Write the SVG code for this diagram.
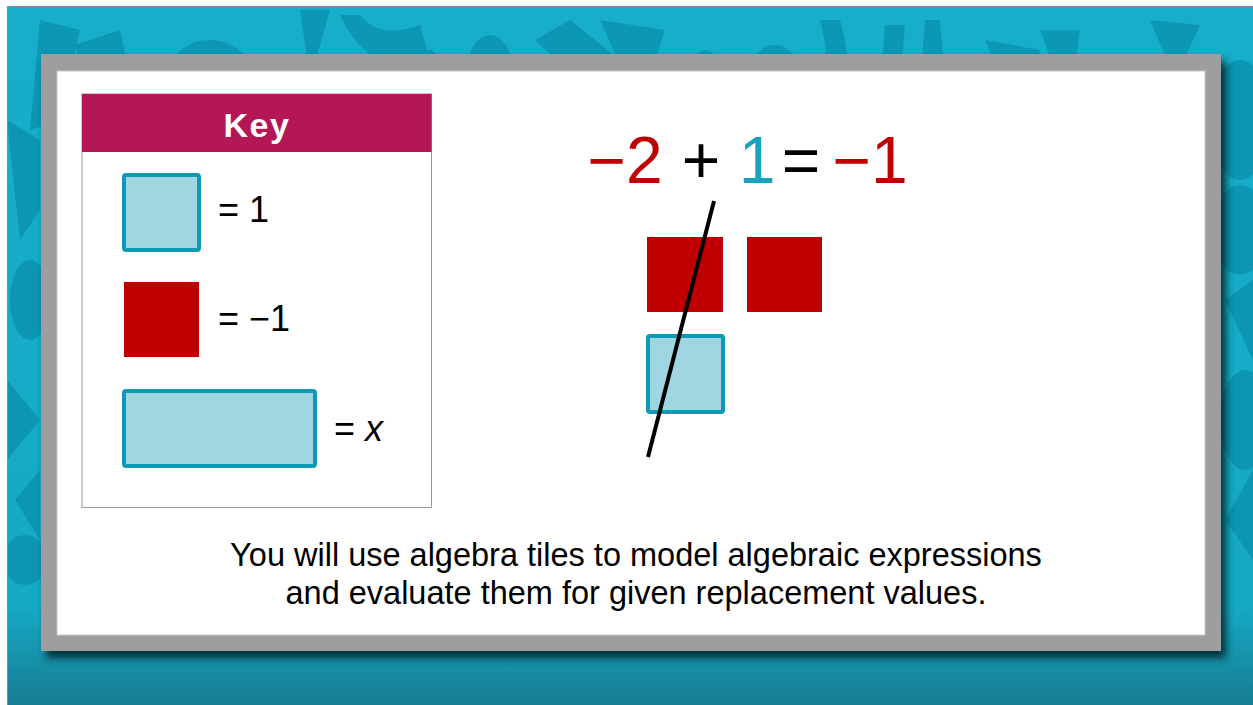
<svg xmlns="http://www.w3.org/2000/svg" width="1253" height="705" viewBox="0 0 1253 705">
<style>
.txt{font-family:"Liberation Sans",Arial,sans-serif;fill:#000}
.unit{fill:#a0d6e1;stroke:#0e9ab5;stroke-width:4}
.neg{fill:#c00000}
.pat{fill:#0b93b0}
</style>
<defs>
<linearGradient id="bg" x1="0" y1="0" x2="0" y2="1">
<stop offset="0" stop-color="#16aecb"/>
<stop offset="0.86" stop-color="#16a9c6"/>
<stop offset="1" stop-color="#177d92"/>
</linearGradient>
<filter id="sh" x="-5%" y="-5%" width="110%" height="115%">
<feGaussianBlur stdDeviation="4"/>
</filter>
<clipPath id="clipbg"><rect x="7" y="6" width="1246" height="699"/></clipPath>
</defs>
<rect width="1253" height="705" fill="#ffffff"/>
<g id="background" clip-path="url(#clipbg)">
<rect x="7" y="6" width="1246" height="699" fill="url(#bg)"/>
<g class="pat" opacity="0.85">
<path d="M40 20 L30 130 L60 120 L80 30 Z"/>
<path d="M75 45 L120 30 L140 120 L100 135 Z"/>
<ellipse cx="210" cy="95" rx="50" ry="55"/>
<path d="M300 10 L310 80 L330 10 Z"/>
<ellipse cx="300" cy="120" rx="30" ry="45"/>
<path d="M340 15 Q370 80 430 60 L420 25 Q380 40 360 15 Z"/>
<ellipse cx="430" cy="80" rx="12" ry="30"/>
<ellipse cx="490" cy="75" rx="24" ry="40"/>
<path d="M535 40 L600 100 L620 60 L570 20 Z"/>
<path d="M600 20 L640 110 L665 30 Z"/>
<ellipse cx="705" cy="85" rx="18" ry="35"/>
<ellipse cx="775" cy="90" rx="30" ry="45"/>
<path d="M820 20 Q840 100 800 130 L830 130 Q860 90 840 20 Z"/>
<path d="M885 25 L880 90 L900 90 L905 25 Z"/>
<path d="M925 20 L920 90 L945 85 L940 20 Z"/>
<path d="M985 40 L1020 120 L1040 50 Z"/>
<path d="M1040 30 L1080 30 L1070 110 Z"/>
<ellipse cx="1120" cy="100" rx="40" ry="45"/>
<path d="M1150 20 L1175 80 L1200 25 Z"/>
<ellipse cx="1240" cy="120" rx="30" ry="60"/>
<ellipse cx="1240" cy="230" rx="28" ry="45"/>
<path d="M1225 300 L1253 360 L1253 280 Z"/>
<ellipse cx="1245" cy="420" rx="25" ry="50"/>
<path d="M1225 520 L1253 470 L1253 560 Z"/>
<path d="M7 120 L40 140 L40 210 L20 240 Z"/>
<ellipse cx="30" cy="300" rx="20" ry="40"/>
<path d="M7 380 L40 420 L7 460 Z"/>
<path d="M15 500 L40 470 L40 540 Z"/>
<ellipse cx="25" cy="560" rx="22" ry="25"/>
</g>
<rect x="7" y="6" width="1246" height="1" fill="#8a8a8a"/>
<rect x="7" y="6" width="1" height="699" fill="#8a8a8a"/>
</g>
<g id="frame">
<rect x="46" y="61" width="1180" height="597" fill="#062a33" opacity="0.95" filter="url(#sh)"/>
<rect x="41" y="54" width="1180" height="597" fill="#9d9e9d"/>
<rect x="57" y="71" width="1148" height="564" fill="#ffffff" stroke="#c8c8c8" stroke-width="1"/>
</g>
<g id="key">
<rect x="82" y="94" width="349.5" height="413.5" fill="#ffffff" stroke="#9a9a9a" stroke-width="1"/>
<rect x="82" y="94" width="349.5" height="58" fill="#b41656"/>
<text x="257" y="137" text-anchor="middle" class="txt" style="font-size:34px;font-weight:bold;fill:#ffffff;letter-spacing:1.5px">Key</text>
</g>
<g id="key-unit">
<rect x="124" y="175" width="75" height="75" rx="2" class="unit"/>
<text x="218" y="222" class="txt" style="font-size:36px">= 1</text>
</g>
<g id="key-neg">
<rect x="124" y="282" width="75" height="75" class="neg"/>
<text x="218" y="331" class="txt" style="font-size:36px">= −1</text>
</g>
<g id="key-x">
<rect x="124" y="391" width="191" height="75" rx="2" class="unit"/>
<text x="334" y="441" class="txt" style="font-size:36px">= <tspan font-style="italic">x</tspan></text>
</g>
<g id="equation">
<text x="625" y="183" text-anchor="middle" class="txt" style="font-size:66px;fill:#c00000">−2</text>
<text x="701" y="183" text-anchor="middle" class="txt" style="font-size:66px">+</text>
<text x="757" y="183" text-anchor="middle" class="txt" style="font-size:66px;fill:#18a2bf">1</text>
<text x="801" y="183" text-anchor="middle" class="txt" style="font-size:66px">=</text>
<text x="870" y="183" text-anchor="middle" class="txt" style="font-size:66px;fill:#c00000">−1</text>
</g>
<g id="tiles">
<rect x="647" y="237" width="76" height="75" class="neg"/>
<rect x="747" y="237" width="75" height="75" class="neg"/>
<rect x="648" y="336" width="75" height="76" rx="2" class="unit"/>
</g>
<g id="connectors">
<line x1="714" y1="201" x2="648" y2="457" stroke="#000000" stroke-width="4"/>
</g>
<g id="caption">
<text x="636" y="566" text-anchor="middle" class="txt" style="font-size:32.5px">You will use algebra tiles to model algebraic expressions</text>
<text x="636" y="604" text-anchor="middle" class="txt" style="font-size:32.5px">and evaluate them for given replacement values.</text>
</g>
</svg>
